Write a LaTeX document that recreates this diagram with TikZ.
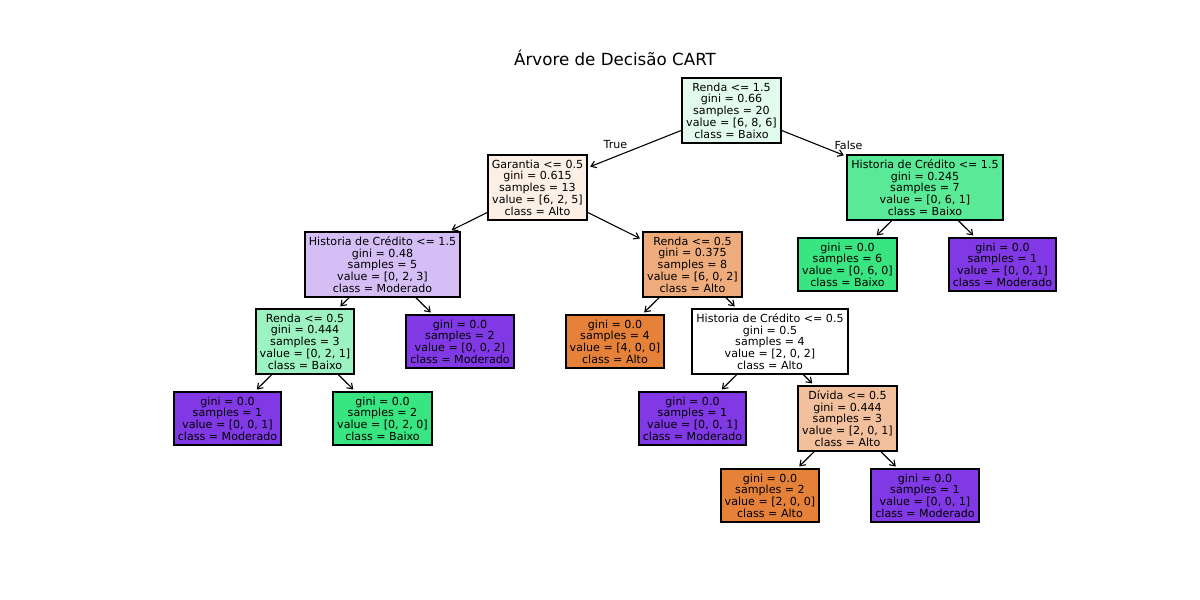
\documentclass[tikz,border=0pt]{standalone}
\usepackage{fontspec}
\setmainfont{DejaVu Sans}
\usetikzlibrary{arrows.meta}
\definecolor{alto}{RGB}{229,129,57}
\definecolor{baixo}{RGB}{57,229,129}
\definecolor{moder}{RGB}{129,57,229}
\definecolor{cRoot}{RGB}{227,251,237}
\definecolor{cGar}{RGB}{252,239,230}
\definecolor{cHistR}{RGB}{90,233,150}
\definecolor{cHistL}{RGB}{213,189,246}
\definecolor{cRendaA}{RGB}{238,171,123}
\definecolor{cRendaB}{RGB}{156,242,192}
\definecolor{cDiv}{RGB}{242,192,156}
\tikzset{
  tn/.style={draw=black, line width=1.1pt, inner sep=0pt, align=center,
    font=\fontsize{11.1}{11.7}\selectfont, text=black},
  five/.style={minimum height=65pt},
  four/.style={minimum height=53pt},
  arr/.style={line width=1.1pt, -{Straight Barb[length=5pt,width=7pt]}, shorten >=2.8pt},
  lbl/.style={font=\fontsize{11.1}{11.7}\selectfont, inner sep=0pt},
}
\begin{document}
\begin{tikzpicture}[x=1pt,y=-1pt]
\useasboundingbox (0,0) rectangle (1200,600);
\node[font=\fontsize{16.7}{20}\selectfont, inner sep=0pt] (title) at (615,58) {Árvore de Decisão CART};

\node[tn,five,fill=cRoot,minimum width=99pt] (root) at (731.5,110.5)
  {Renda <= 1.5\\gini = 0.66\\samples = 20\\value = [6, 8, 6]\\class = Baixo};
\node[tn,five,fill=cGar,minimum width=99pt] (gar) at (537.5,187.5)
  {Garantia <= 0.5\\gini = 0.615\\samples = 13\\value = [6, 2, 5]\\class = Alto};
\node[tn,five,fill=cHistR,minimum width=156pt] (histR) at (925,187.5)
  {Historia de Crédito <= 1.5\\gini = 0.245\\samples = 7\\value = [0, 6, 1]\\class = Baixo};
\node[tn,five,fill=cHistL,minimum width=155pt] (histL) at (382.5,264.5)
  {Historia de Crédito <= 1.5\\gini = 0.48\\samples = 5\\value = [0, 2, 3]\\class = Moderado};
\node[tn,five,fill=cRendaA,minimum width=99pt] (rendaA) at (692.5,264.5)
  {Renda <= 0.5\\gini = 0.375\\samples = 8\\value = [6, 0, 2]\\class = Alto};
\node[tn,four,fill=baixo,minimum width=99pt] (leafB6) at (847.5,264.5)
  {gini = 0.0\\samples = 6\\value = [0, 6, 0]\\class = Baixo};
\node[tn,four,fill=moder,minimum width=107pt] (leafM1a) at (1002.5,264.5)
  {gini = 0.0\\samples = 1\\value = [0, 0, 1]\\class = Moderado};
\node[tn,five,fill=cRendaB,minimum width=98pt] (rendaB) at (305,341.5)
  {Renda <= 0.5\\gini = 0.444\\samples = 3\\value = [0, 2, 1]\\class = Baixo};
\node[tn,four,fill=moder,minimum width=108pt] (leafM2) at (460,341.5)
  {gini = 0.0\\samples = 2\\value = [0, 0, 2]\\class = Moderado};
\node[tn,four,fill=alto,minimum width=98pt] (leafA4) at (615,341.5)
  {gini = 0.0\\samples = 4\\value = [4, 0, 0]\\class = Alto};
\node[tn,five,fill=white,minimum width=156pt] (hist05) at (770,341.5)
  {Historia de Crédito <= 0.5\\gini = 0.5\\samples = 4\\value = [2, 0, 2]\\class = Alto};
\node[tn,four,fill=moder,minimum width=107pt] (leafM1b) at (227.5,418.5)
  {gini = 0.0\\samples = 1\\value = [0, 0, 1]\\class = Moderado};
\node[tn,four,fill=baixo,minimum width=99pt] (leafB2) at (382.5,418.5)
  {gini = 0.0\\samples = 2\\value = [0, 2, 0]\\class = Baixo};
\node[tn,four,fill=moder,minimum width=107pt] (leafM1c) at (692.5,418.5)
  {gini = 0.0\\samples = 1\\value = [0, 0, 1]\\class = Moderado};
\node[tn,five,fill=cDiv,minimum width=99pt] (div) at (847.5,418.5)
  {Dívida <= 0.5\\gini = 0.444\\samples = 3\\value = [2, 0, 1]\\class = Alto};
\node[tn,four,fill=alto,minimum width=98pt] (leafA2) at (770,495.5)
  {gini = 0.0\\samples = 2\\value = [2, 0, 0]\\class = Alto};
\node[tn,four,fill=moder,minimum width=108pt] (leafM1d) at (925,495.5)
  {gini = 0.0\\samples = 1\\value = [0, 0, 1]\\class = Moderado};

\draw[arr] (root) -- (gar);
\draw[arr] (root) -- (histR);
\draw[arr] (gar) -- (histL);
\draw[arr] (gar) -- (rendaA);
\draw[arr] (histR) -- (leafB6);
\draw[arr] (histR) -- (leafM1a);
\draw[arr] (histL) -- (rendaB);
\draw[arr] (histL) -- (leafM2);
\draw[arr] (rendaA) -- (leafA4);
\draw[arr] (rendaA) -- (hist05);
\draw[arr] (rendaB) -- (leafM1b);
\draw[arr] (rendaB) -- (leafB2);
\draw[arr] (hist05) -- (leafM1c);
\draw[arr] (hist05) -- (div);
\draw[arr] (div) -- (leafA2);
\draw[arr] (div) -- (leafM1d);

\node[lbl] (ltrue) at (615.5,145) {True};
\node[lbl] (lfalse) at (848.5,145) {False};
\end{tikzpicture}
\end{document}
